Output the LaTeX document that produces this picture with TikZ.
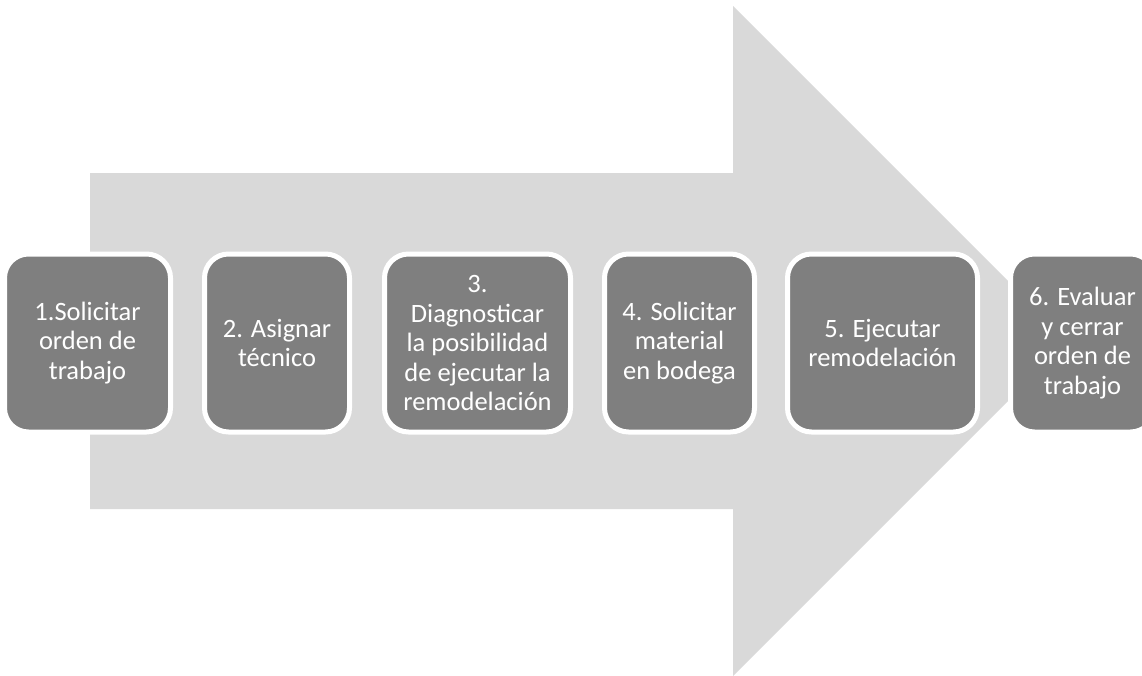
\documentclass[tikz,border=0pt]{standalone}
\usepackage{fontspec}
\setmainfont{Carlito}
\definecolor{arrowgray}{HTML}{D9D9D9}
\definecolor{stepgray}{HTML}{7F7F7F}
\begin{document}
\begin{tikzpicture}[x=1pt,y=-1pt,
  stepbox/.style={draw=white, line width=5pt, fill=stepgray, rounded corners=24pt,
    minimum height=178pt, text=white, align=center, inner sep=0pt,
    font=\fontsize{26.5}{29.5}\selectfont}]
  \useasboundingbox (0,0) rectangle (1142,675);
  \clip (0,0) rectangle (1142,675);
  % large background arrow
  \fill[arrowgray] (90,173) -- (733,173) -- (733,6) -- (1068,341) -- (733,676)
    -- (733,509) -- (90,509) -- cycle;
  % process steps
  \node[stepbox, minimum width=166pt] (s1) at (87.5,343) {1.Solicitar\\orden de\\trabajo};
  \node[stepbox, minimum width=145pt] (s2) at (277,343) {2. Asignar\\técnico};
  \node[stepbox, minimum width=186pt] (s3) at (477.5,343) {3.\\Diagnosticar\\la posibilidad\\de ejecutar la\\remodelación};
  \node[stepbox, minimum width=150pt] (s4) at (679.5,343) {4. Solicitar\\material\\en bodega};
  \node[stepbox, minimum width=190pt] (s5) at (882.5,343) {5. Ejecutar\\remodelación};
  \node[stepbox, minimum width=144pt] (s6) at (1082.5,343) {6. Evaluar\\y cerrar\\orden de\\trabajo};
\end{tikzpicture}
\end{document}
